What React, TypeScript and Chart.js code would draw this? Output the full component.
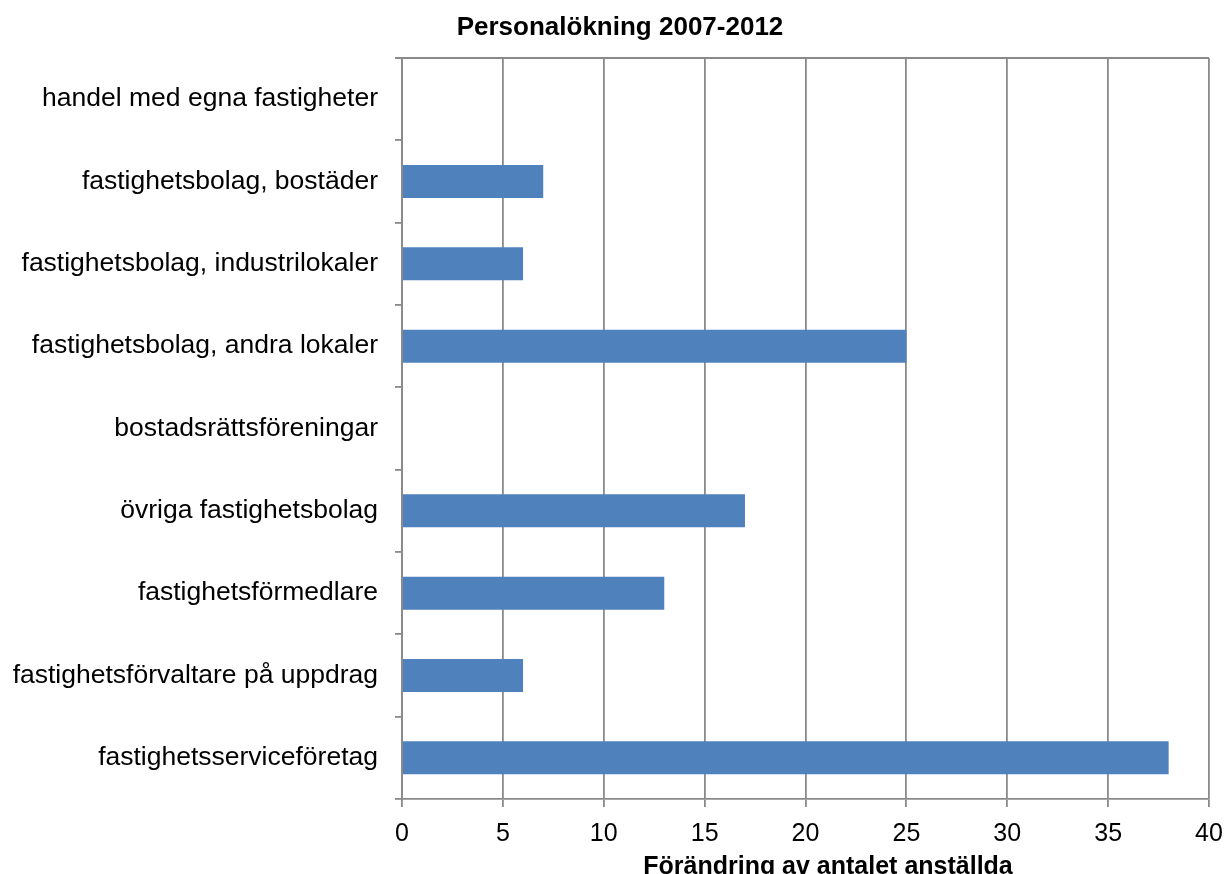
import React, { useEffect, useRef } from "react";
import { Chart, registerables } from "chart.js";

Chart.register(...registerables);

const categories = [
  "handel med egna fastigheter",
  "fastighetsbolag, bostäder",
  "fastighetsbolag, industrilokaler",
  "fastighetsbolag, andra lokaler",
  "bostadsrättsföreningar",
  "övriga fastighetsbolag",
  "fastighetsförmedlare",
  "fastighetsförvaltare på uppdrag",
  "fastighetsserviceföretag",
];
const values = [0, 7, 6, 25, 0, 17, 13, 6, 38];
const chartTitle = "Personalökning 2007-2012";
const xAxisTitle = "Förändring av antalet anställda";
const xMin = 0;
const xMax = 40;
const xStep = 5;

const FONT = "'Liberation Sans', Arial, sans-serif";
const GRID = "#8a8a8a";
const LW = 1.8;
const W = 1226;
const H = 874;

const decorPlugin = {
  id: "decor",
  afterDraw(chart: any) {
    const { ctx, chartArea } = chart;
    ctx.save();
    // top frame line
    ctx.strokeStyle = GRID;
    ctx.lineWidth = LW;
    ctx.beginPath();
    ctx.moveTo(chartArea.left - 7, chartArea.top);
    ctx.lineTo(chartArea.right, chartArea.top);
    ctx.stroke();
    // titles
    ctx.fillStyle = "#000";
    ctx.textAlign = "center";
    ctx.textBaseline = "alphabetic";
    ctx.font = `bold 26px ${FONT}`;
    ctx.fillText(chartTitle, 620, 35);
    ctx.font = `bold 25px ${FONT}`;
    ctx.fillText(xAxisTitle, 828, 874);
    ctx.restore();
  },
};

export default function App() {
  const ref = useRef<HTMLCanvasElement | null>(null);
  useEffect(() => {
    if (!ref.current) return;
    const chart = new Chart(ref.current, {
      type: "bar",
      data: {
        labels: categories,
        datasets: [
          {
            data: values,
            backgroundColor: "#4f81bd",
            borderWidth: 0,
            categoryPercentage: 1,
            barPercentage: 0.4,
          },
        ],
      },
      plugins: [decorPlugin],
      options: {
        indexAxis: "y",
        animation: false,
        responsive: false,
        maintainAspectRatio: false,
        layout: { padding: { left: 0, right: 17, top: 58, bottom: 0 } },
        plugins: {
          legend: { display: false },
          tooltip: { enabled: false },
          title: { display: false },
        },
        scales: {
          x: {
            type: "linear",
            min: xMin,
            max: xMax,
            ticks: {
              stepSize: xStep,
              color: "#000",
              font: { family: FONT, size: 25 },
              padding: 12,
              maxRotation: 0,
            },
            grid: {
              color: GRID,
              lineWidth: LW,
              tickLength: 8,
              drawTicks: true,
            },
            border: { color: GRID, width: LW },
            afterFit(scale: any) {
              scale.height = H - 799;
              scale.paddingLeft = 0;
              scale.paddingRight = 0;
            },
          },
          y: {
            type: "category",
            offset: true,
            ticks: {
              color: "#000",
              font: { family: FONT, size: 26.5 },
              padding: 17,
            },
            grid: {
              offset: true,
              drawOnChartArea: false,
              color: GRID,
              lineWidth: LW,
              tickLength: 7,
            },
            border: { color: GRID, width: LW },
            afterFit(scale: any) {
              scale.width = 402;
              scale.paddingTop = 0;
              scale.paddingBottom = 0;
            },
          },
        },
      },
    } as any);
    return () => chart.destroy();
  }, []);
  return (
    <div
      style={{
        position: "fixed",
        top: 0,
        left: 0,
        width: W,
        height: H,
        overflow: "hidden",
        background: "#fff",
      }}
    >
      <canvas ref={ref} width={W} height={H} style={{ display: "block" }} />
    </div>
  );
}
